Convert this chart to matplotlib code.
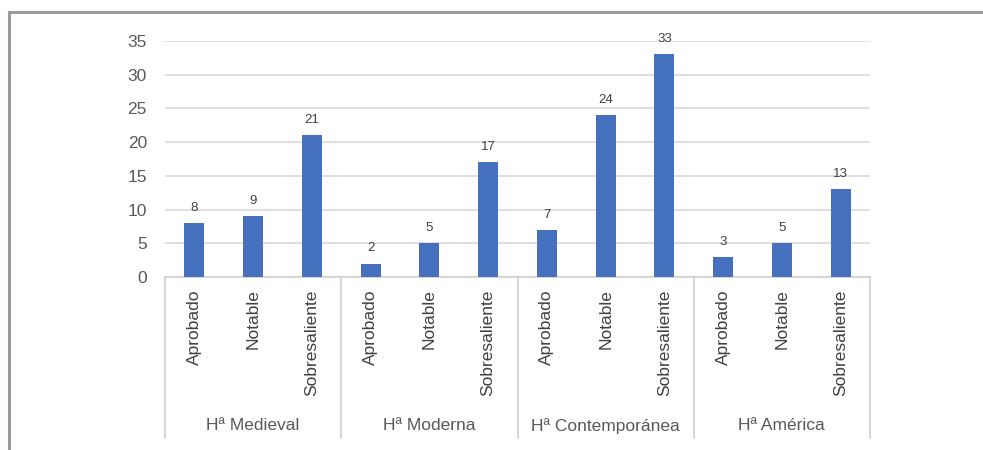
import matplotlib
matplotlib.use("Agg")
import matplotlib.pyplot as plt
from matplotlib.transforms import blended_transform_factory
from matplotlib.lines import Line2D

groups = ["Hª Medieval", "Hª Moderna", "Hª Contemporánea", "Hª América"]
grades = ["Aprobado", "Notable", "Sobresaliente"]
values = [
    [8, 9, 21],
    [2, 5, 17],
    [7, 24, 33],
    [3, 5, 13],
]
yticks = [0, 5, 10, 15, 20, 25, 30, 35]

plt.rcParams['font.family'] = ['Liberation Sans', 'DejaVu Sans']

W, H = 983, 450
fig = plt.figure(figsize=(W / 100, H / 100), dpi=100)
ax = fig.add_axes([165 / W, 1 - 277 / H, (870 - 165) / W, (277 - 41) / H])

# figure frame (top and left only)
fig.add_artist(Line2D([9 / W, 1], [1 - 12 / H, 1 - 12 / H], transform=fig.transFigure,
                      color="#9a9a9a", lw=2.2))
fig.add_artist(Line2D([9 / W, 9 / W], [1 - 12 / H, 0], transform=fig.transFigure,
                      color="#9a9a9a", lw=2.2))

xs, hs, labels = [], [], []
for gi, g in enumerate(groups):
    for ci, c in enumerate(grades):
        xs.append(gi * 3 + ci + 0.5)
        hs.append(values[gi][ci])
        labels.append(c)

bars = ax.bar(xs, hs, width=0.34, color="#4570BE", zorder=3)
for x, h in zip(xs, hs):
    ax.annotate(str(h), (x, h), xytext=(0, 6.5), textcoords="offset points",
                ha="center", va="bottom", fontsize=9.5, color="#404040")

ax.set_xlim(0, 12)
ax.set_ylim(0, 35)
ax.set_yticks(yticks)
ax.yaxis.grid(True, color="#D9D9D9", lw=1.2, zorder=0)
ax.set_axisbelow(True)
for s in ["top", "right", "left"]:
    ax.spines[s].set_visible(False)
ax.spines["bottom"].set_color("#D0D0D0")
ax.spines["bottom"].set_linewidth(1.2)
ax.tick_params(axis="y", length=0, pad=13, labelsize=12.5, labelcolor="#595959")
ax.set_xticks(xs)
ax.set_xticklabels(labels, rotation=90, va="top", ha="center")
ax.tick_params(axis="x", length=0, pad=9, labelsize=12.5, labelcolor="#404040")

trans = blended_transform_factory(ax.transData, ax.transAxes)
for k in range(len(groups) + 1):
    ax.plot([k * 3, k * 3], [0, -0.682], transform=trans, color="#D0D0D0",
            lw=1.2, clip_on=False)
for gi, g in enumerate(groups):
    ax.text(gi * 3 + 1.5, -0.631, g, transform=trans, ha="center", va="center",
            fontsize=12.5, color="#595959")

fig.savefig("out.png", dpi=100)
